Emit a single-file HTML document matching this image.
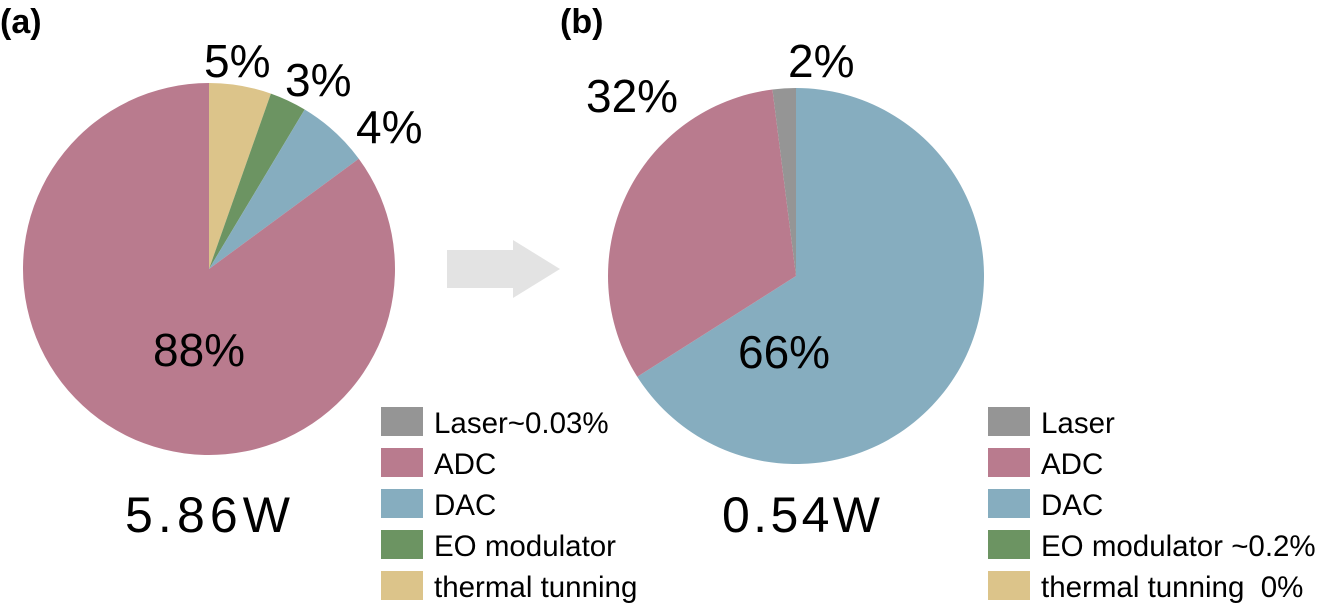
<!DOCTYPE html>
<html><head><meta charset="utf-8"><style>
body{margin:0;background:#fff;}
svg text{font-family:"Liberation Sans",sans-serif;fill:#000;}
</style></head><body>
<svg width="1328" height="609" viewBox="0 0 1328 609" xmlns="http://www.w3.org/2000/svg">
<text x="0" y="33" font-size="34" font-weight="bold">(a)</text>
<text x="560" y="33" font-size="34" font-weight="bold">(b)</text>
<g id="pieA"></g>
<g id="pieB"></g>
<text x="153" y="366" font-size="46">88%</text>
<text x="204" y="77" font-size="46">5%</text>
<text x="285" y="96" font-size="46">3%</text>
<text x="356" y="143" font-size="46">4%</text>
<text x="738" y="368" font-size="46">66%</text>
<text x="586" y="112" font-size="46">32%</text>
<text x="788" y="77" font-size="46">2%</text>
<text x="125" y="532" font-size="50" textLength="165">5.86W</text>
<text x="722" y="532" font-size="50" textLength="158">0.54W</text>
<polygon points="447,250 513,250 513,240 560,269 513,298 513,288 447,288" fill="#e3e3e3"/>
<g id="legA"></g>
<g id="legB"></g>
</svg>
<script>
const catsA=["thermal tunning","EO modulator","DAC","ADC"];
const valsA=[5.4,3.2,6.3,85.1];
const catsB=["DAC","ADC","Laser"];
const valsB=[66,32,2];
const legendA=["Laser~0.03%","ADC","DAC","EO modulator","thermal tunning"];
const legendB=["Laser","ADC","DAC","EO modulator ~0.2%","thermal tunning  0%"];
const colors={"Laser":"#959595","ADC":"#b97b8e","DAC":"#86adbf","EO modulator":"#6c9462","thermal tunning":"#dcc48a"};
const legKeys=["Laser","ADC","DAC","EO modulator","thermal tunning"];
const NS="http://www.w3.org/2000/svg";
function pie(g,cx,cy,r,cats,vals){
  const tot=vals.reduce((a,b)=>a+b,0);let a0=0;
  cats.forEach((c,i)=>{
    const a1=a0+vals[i]/tot*2*Math.PI;
    const p=(a)=>[cx+r*Math.sin(a),cy-r*Math.cos(a)];
    const [x0,y0]=p(a0),[x1,y1]=p(a1);
    const el=document.createElementNS(NS,"path");
    el.setAttribute("d",`M${cx},${cy}L${x0},${y0}A${r},${r} 0 ${a1-a0>Math.PI?1:0} 1 ${x1},${y1}Z`);
    el.setAttribute("fill",colors[c]);
    
    
    g.appendChild(el);a0=a1;
  });
}
function legend(g,x,labels){
  labels.forEach((t,i)=>{
    const y=407+i*41;
    const r=document.createElementNS(NS,"rect");
    r.setAttribute("x",x);r.setAttribute("y",y);r.setAttribute("width",42);r.setAttribute("height",29);
    r.setAttribute("fill",colors[legKeys[i]]);
    
    
    g.appendChild(r);
    const tx=document.createElementNS(NS,"text");
    tx.setAttribute("x",x+53);tx.setAttribute("y",y+26);tx.setAttribute("font-size","29.5");
    tx.setAttribute("xml:space","preserve");tx.style.whiteSpace="pre";
    tx.textContent=t;
    
    
    g.appendChild(tx);
  });
}
pie(document.getElementById("pieA"),209,269,186,catsA,valsA);
pie(document.getElementById("pieB"),796,276,188,catsB,valsB);
legend(document.getElementById("legA"),381,legendA);
legend(document.getElementById("legB"),988,legendB);
</script>
</body></html>
